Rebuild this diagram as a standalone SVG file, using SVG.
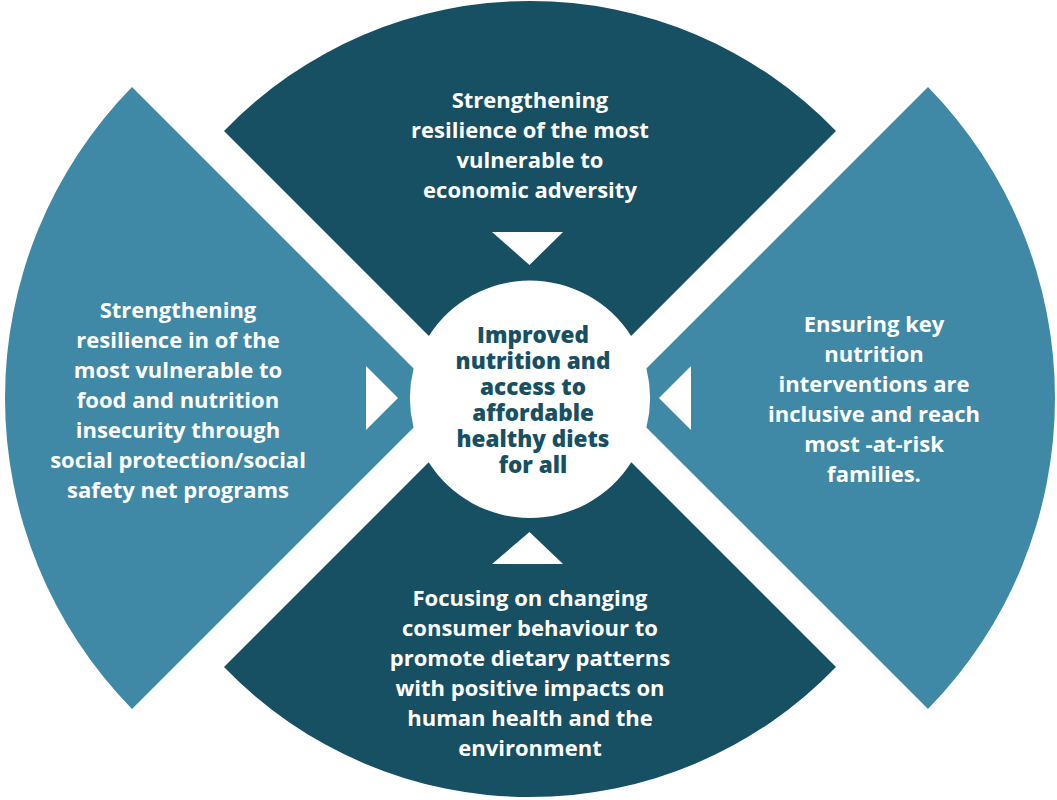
<svg xmlns="http://www.w3.org/2000/svg" width="1057" height="800" viewBox="0 0 1057 800">
<style>
.dark{fill:#174f63}
.light{fill:#3f89a7}
.tri{fill:#ffffff}
.lbl{font-family:"Open Sans","Noto Sans","Liberation Sans",sans-serif;font-weight:700;font-size:22px;fill:#ffffff;text-anchor:middle}
.ctr{font-family:"Open Sans","Noto Sans","Liberation Sans",sans-serif;font-weight:800;font-size:22.5px;fill:#174f63;text-anchor:middle}
</style>
<rect width="1057" height="800" fill="#ffffff"/>
<g id="top">
<path class="dark" d="M224,131 A425,425 0 0 1 836,131 L631.1,335.9 A120,120 0 0 0 428.9,335.9 Z"/>
<text class="lbl"><tspan x="530" y="108">Strengthening</tspan><tspan x="530" y="138">resilience of the most</tspan><tspan x="530" y="168">vulnerable to</tspan><tspan x="530" y="198">economic adversity</tspan></text>
</g>
<g id="left">
<path class="light" d="M132,87 L413.6,368.6 A120,120 0 0 0 413.6,427.4 L132,709 A444.3,444.3 0 0 1 132,87 Z"/>
<text class="lbl"><tspan x="178" y="318">Strengthening</tspan><tspan x="178" y="348">resilience in of the</tspan><tspan x="178" y="378">most vulnerable to</tspan><tspan x="178" y="408">food and nutrition</tspan><tspan x="178" y="438">insecurity through</tspan><tspan x="178" y="468">social protection/social</tspan><tspan x="178" y="498">safety net programs</tspan></text>
</g>
<g id="right">
<path class="light" d="M928,87 A444.3,444.3 0 0 1 928,709 L646.4,427.4 A120,120 0 0 0 646.4,368.6 Z"/>
<text class="lbl"><tspan x="874" y="332">Ensuring key</tspan><tspan x="874" y="362">nutrition</tspan><tspan x="874" y="392">interventions are</tspan><tspan x="874" y="422">inclusive and reach</tspan><tspan x="874" y="452">most -at-risk</tspan><tspan x="874" y="482">families.</tspan></text>
</g>
<g id="bottom">
<path class="dark" d="M428.7,462.3 A120,120 0 0 0 631.3,462.3 L836,667 A425,425 0 0 1 224,667 Z"/>
<text class="lbl"><tspan x="530" y="606">Focusing on changing</tspan><tspan x="530" y="636">consumer behaviour to</tspan><tspan x="530" y="666">promote dietary patterns</tspan><tspan x="530" y="696">with positive impacts on</tspan><tspan x="530" y="726">human health and the</tspan><tspan x="530" y="756">environment</tspan></text>
</g>
<g id="center">
<circle cx="530" cy="398" r="112" fill="#ffffff"/>
<text class="ctr"><tspan x="533" y="343">Improved</tspan><tspan x="533" y="369">nutrition and</tspan><tspan x="533" y="395">access to</tspan><tspan x="533" y="421">affordable</tspan><tspan x="533" y="447">healthy diets</tspan><tspan x="533" y="473">for all</tspan></text>
</g>
<g id="connectors">
<polygon class="tri" points="492,232 563,232 529.5,265"/>
<polygon class="tri" points="492,564 563,564 529.5,532"/>
<polygon class="tri" points="366,366 366,430 398,398"/>
<polygon class="tri" points="691,366 691,430 659,398"/>
</g>
</svg>
